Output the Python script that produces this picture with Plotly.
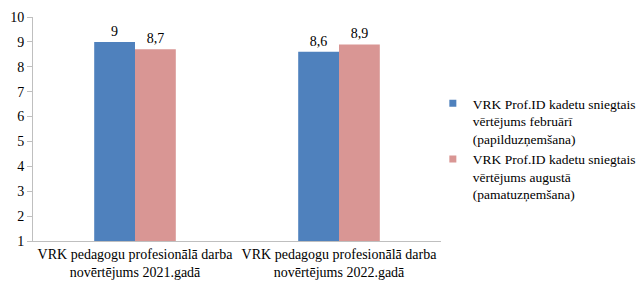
import plotly.graph_objects as go

categories = ["VRK pedagogu profesionālā darba<br>novērtējums 2021.gadā",
              "VRK pedagogu profesionālā darba<br>novērtējums 2022.gadā"]
series_names = ["VRK Prof.ID kadetu sniegtais<br>vērtējums februārī<br>(papilduzņemšana)",
                "VRK Prof.ID kadetu sniegtais<br>vērtējums augustā<br>(pamatuzņemšana)"]
feb_values = [9, 8.6]
aug_values = [8.7, 8.9]
y_ticks = [1, 2, 3, 4, 5, 6, 7, 8, 9, 10]
colors = ["#4F81BD", "#D99694"]

font_family = "Liberation Serif"

fig = go.Figure()
for vals, col, nm in [(feb_values, colors[0], series_names[0]),
                      (aug_values, colors[1], series_names[1])]:
    fig.add_trace(go.Bar(x=categories, y=vals, name=nm, showlegend=False,
                         marker=dict(color=col, line=dict(width=0)),
                         texttemplate="%{y}", textposition="outside",
                         textfont=dict(size=14, color="#000000", family=font_family),
                         cliponaxis=False))
for col, nm in zip(colors, series_names):
    fig.add_trace(go.Scatter(x=[None], y=[None], mode="markers", name=nm,
                             marker=dict(symbol="square", size=7, color=col)))

fig.update_layout(
    width=638, height=281,
    margin=dict(l=33, r=197, t=17, b=40, autoexpand=False),
    paper_bgcolor="white", plot_bgcolor="white",
    barmode="group", bargap=0.6, bargroupgap=0,
    separators=", ",
    font=dict(family=font_family, size=14, color="#000000"),
    showlegend=True,
    legend=dict(x=0.98, y=0.683, xanchor="left", yanchor="top", valign="top",
                font=dict(size=13.5, family=font_family),
                itemwidth=30, tracegroupgap=0, bgcolor="rgba(0,0,0,0)"),
    xaxis=dict(showline=True, linecolor="#BFBFBF", linewidth=1,
               ticks="", tickangle=0, automargin=False,
               tickfont=dict(size=14, family=font_family)),
    yaxis=dict(range=[1, 10], tickvals=y_ticks, showgrid=False, automargin=False,
               showline=True, linecolor="#BFBFBF", linewidth=1,
               ticks="outside", ticklen=5, tickcolor="#BFBFBF",
               tickfont=dict(size=14, family=font_family), zeroline=False),
)

fig.write_html("out.html", config={"displayModeBar": False},
               post_script="document.body.style.margin='0';")
